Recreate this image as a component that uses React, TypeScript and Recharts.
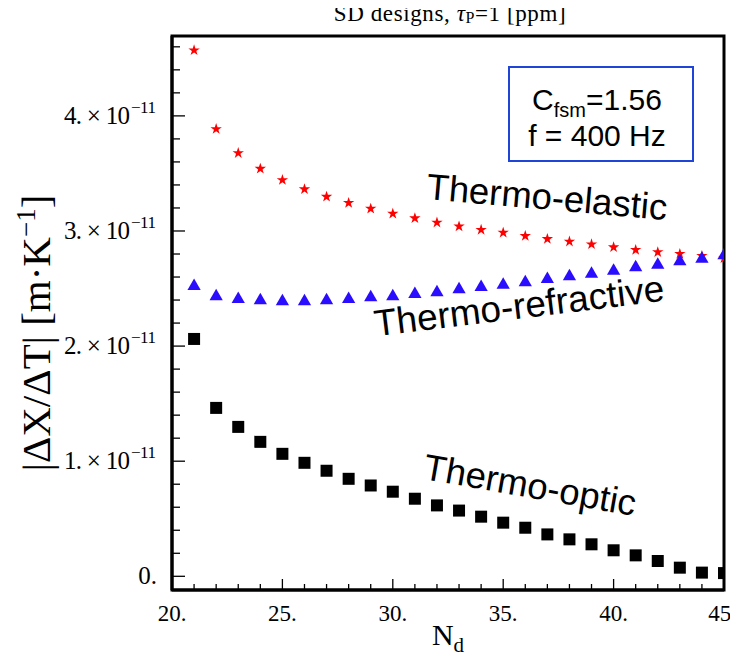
import React from "react";
import { ScatterChart, Scatter, XAxis, YAxis, Symbols, ReferenceArea } from "recharts";

// N_d values
const Nd = [21, 22, 23, 24, 25, 26, 27, 28, 29, 30, 31, 32, 33, 34, 35, 36, 37, 38, 39, 40, 41, 42, 43, 44, 45];
// |ΔX/ΔT| in units of 1e-11 m/K
const thermoElastic = [4.57, 3.886, 3.677, 3.541, 3.443, 3.363, 3.298, 3.244, 3.194, 3.151, 3.111, 3.073, 3.04, 3.01, 2.986, 2.957, 2.931, 2.908, 2.885, 2.859, 2.836, 2.816, 2.801, 2.784, 2.764];
const thermoRefractive = [2.52, 2.431, 2.408, 2.397, 2.388, 2.388, 2.397, 2.408, 2.423, 2.431, 2.452, 2.466, 2.492, 2.512, 2.532, 2.553, 2.582, 2.605, 2.628, 2.654, 2.683, 2.706, 2.735, 2.758, 2.787];
const thermoOptic = [2.062, 1.463, 1.298, 1.168, 1.064, 0.986, 0.917, 0.847, 0.789, 0.735, 0.674, 0.616, 0.571, 0.518, 0.466, 0.422, 0.364, 0.321, 0.278, 0.226, 0.182, 0.133, 0.075, 0.032, 0.028];

const xTicks = [20, 21, 22, 23, 24, 25, 26, 27, 28, 29, 30, 31, 32, 33, 34, 35, 36, 37, 38, 39, 40, 41, 42, 43, 44, 45];
const xMajorLabels = ["20.", "25.", "30.", "35.", "40.", "45."];
const yTicks = [0, 0.2, 0.4, 0.6, 0.8, 1, 1.2, 1.4, 1.6, 1.8, 2, 2.2, 2.4, 2.6, 2.8, 3, 3.2, 3.4, 3.6, 3.8, 4, 4.2, 4.4, 4.6];
const yMajorLabels = ["0.", "1.", "2.", "3.", "4."];
const xDomain = [20, 45];
const yDomain = [-0.119, 4.694];

const teData = Nd.map((n, i) => ({ x: n, y: thermoElastic[i] }));
const trData = Nd.map((n, i) => ({ x: n, y: thermoRefractive[i] }));
const toData = Nd.map((n, i) => ({ x: n, y: thermoOptic[i] }));

const SERIF = "'Liberation Serif', 'Times New Roman', Times, serif";
const SANS = "'Liberation Sans', Arial, Helvetica, sans-serif";

const W = 730;
const H = 654;

function isMajor(v: number, step: number) {
  const r = v / step;
  return Math.abs(r - Math.round(r)) < 1e-6;
}

function YTick(props: any) {
  const { x, y, payload } = props;
  const v = payload.value as number;
  const ax = x + 12;
  const major = isMajor(v, 1);
  const idx = Math.round(v);
  const ex = x - 3; // right end of the label
  const supW = 27; // room for the exponent
  return (
    <g>
      <line x1={ax} x2={ax + (major ? 13 : 8)} y1={y} y2={y} stroke="#000" strokeWidth={1.3} />
      {major && idx === 0 && (
        <text x={ex} y={y + 8} textAnchor="end" fontFamily={SERIF} fontSize={25} fill="#000">
          {yMajorLabels[0]}
        </text>
      )}
      {major && idx !== 0 && (
        <>
          <text
            x={ex - supW - 66}
            y={y + 8}
            textAnchor="start"
            fontFamily={SERIF}
            fontSize={25}
            textLength={66}
            lengthAdjust="spacing"
            fill="#000"
          >
            {yMajorLabels[idx] + " \u00d7 10"}
          </text>
          <text
            x={ex - supW + 1}
            y={y - 3}
            textAnchor="start"
            fontFamily={SERIF}
            fontSize={17}
            textLength={25}
            lengthAdjust="spacing"
            fill="#000"
          >
            {"\u221211"}
          </text>
        </>
      )}
    </g>
  );
}

function XTick(props: any) {
  const { x, y, payload } = props;
  const v = payload.value as number;
  const major = isMajor(v, 5);
  const last = v >= 45;
  return (
    <g>
      <line x1={x} x2={x} y1={y} y2={y - (major ? 11 : 6)} stroke="#000" strokeWidth={1.3} />
      {major && (
        <text
          x={last ? x + 13 : x}
          y={y + 31}
          textAnchor={last ? "end" : "middle"}
          fontFamily={SERIF}
          fontSize={23}
          fill="#000"
        >
          {xMajorLabels[Math.round((v - 20) / 5)]}
        </text>
      )}
    </g>
  );
}

const starShape = (p: any) => <Symbols cx={p.cx} cy={p.cy} type="star" size={40} fill="#ff0000" stroke="none" />;
const triShape = (p: any) => <Symbols cx={p.cx} cy={p.cy} type="triangle" size={76} fill="#2a0cff" stroke="none" />;
const sqShape = (p: any) => <Symbols cx={p.cx} cy={p.cy} type="square" size={144} fill="#000" stroke="none" />;

const frame = { stroke: "#000", strokeWidth: 3 };

export default function App() {
  return (
    <div style={{ position: "relative", width: W, height: H }}>
      <ScatterChart width={W} height={H} margin={{ top: 28, right: 14, left: 0, bottom: 0 }}>
        <XAxis
          dataKey="x"
          type="number"
          domain={xDomain}
          ticks={xTicks}
          interval={0}
          allowDataOverflow
          height={72}
          tickSize={0}
          tickMargin={0}
          tickLine={false}
          axisLine={frame}
          tick={XTick}
        />
        <YAxis
          dataKey="y"
          type="number"
          domain={yDomain}
          ticks={yTicks}
          interval={0}
          allowDataOverflow
          width={164}
          tickSize={0}
          tickMargin={12}
          tickLine={false}
          axisLine={frame}
          tick={YTick}
        />
        <Scatter data={teData} shape={starShape} isAnimationActive={false} />
        <Scatter data={trData} shape={triShape} isAnimationActive={false} />
        <Scatter data={toData} shape={sqShape} isAnimationActive={false} />
        <ReferenceArea
          x1={xDomain[0]}
          x2={xDomain[1]}
          y1={yDomain[0]}
          y2={yDomain[1]}
          ifOverflow="visible"
          fill="none"
          fillOpacity={0}
          stroke="#000"
          strokeWidth={3}
          strokeOpacity={1}
        />
      </ScatterChart>
      <svg width={W} height={H + 8} style={{ position: "absolute", left: 0, top: -8, pointerEvents: "none" }}>
        <g transform="translate(0 8)">
          <text x={442} y={13} textAnchor="middle" fontFamily={SERIF} fontSize={23} letterSpacing={0.6} fill="#000">
            <tspan>{"SD designs, "}</tspan>
            <tspan fontStyle="italic">{"\u03c4"}</tspan>
            <tspan fontSize={16} dy={2}>P</tspan>
            <tspan dy={-2}>{"=1 [ppm]"}</tspan>
          </text>
          <text x={0} y={0} transform="translate(42 325) rotate(-90)" textAnchor="middle" fontFamily={SERIF} fontSize={41} fill="#000">
            <tspan>{"|\u0394X/\u0394T| [m\u00b7K"}</tspan>
            <tspan dy={-15} fontSize={27}>{"\u22121"}</tspan>
            <tspan dy={15}>]</tspan>
          </text>
          <text x={440} y={637} textAnchor="middle" fontFamily={SERIF} fontSize={30} fill="#000">
            <tspan>N</tspan>
            <tspan fontSize={21} dy={7}>d</tspan>
          </text>
          <rect x={501} y={59} width={184} height={94} fill="#fff" stroke="#1f45d8" strokeWidth={2} />
          <text x={589} y={102} textAnchor="middle" fontFamily={SANS} fontSize={30} fill="#000">
            <tspan>C</tspan>
            <tspan fontSize={20} dy={7}>fsm</tspan>
            <tspan dy={-7}>=1.56</tspan>
          </text>
          <text x={589} y={138} textAnchor="middle" fontFamily={SANS} fontSize={30} fill="#000">
            f = 400 Hz
          </text>
          <text x={0} y={0} transform="translate(539 189) rotate(5)" textAnchor="middle" dominantBaseline="central" fontFamily={SANS} fontSize={36.5} fill="#000">
            Thermo-elastic
          </text>
          <text x={0} y={0} transform="translate(511 298) rotate(-7)" textAnchor="middle" dominantBaseline="central" fontFamily={SANS} fontSize={37} fill="#000">
            Thermo-refractive
          </text>
          <text x={0} y={0} transform="translate(522 477) rotate(10)" textAnchor="middle" dominantBaseline="central" fontFamily={SANS} fontSize={36.5} fill="#000">
            Thermo-optic
          </text>
        </g>
      </svg>
    </div>
  );
}
